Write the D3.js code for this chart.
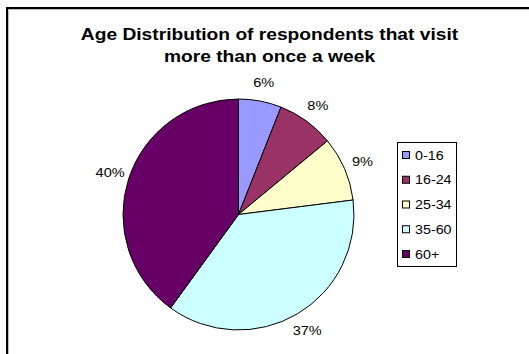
<!DOCTYPE html>
<html>
<head>
<meta charset="utf-8">
<script src="https://cdn.jsdelivr.net/npm/d3@7"></script>
<style>
  html, body { margin: 0; padding: 0; background: #fff; }
  svg { display: block; font-family: "Liberation Sans", Arial, sans-serif; }
</style>
</head>
<body>
<svg id="chart" width="529" height="354"></svg>
<script>
// Age groups and their share (%) of respondents visiting more than once a week
const categories = ["0-16", "16-24", "25-34", "35-60", "60+"];
const shares = [6, 8, 9, 37, 40];
const colors = ["#9999FF", "#993366", "#FFFFCC", "#CCFFFF", "#660066"];
const titleLines = ["Age Distribution of respondents that visit", "more than once a week"];

// Text is drawn slightly widened, like the original spreadsheet export
const SX = 1.12;

const svg = d3.select("#chart");

// Chart frame (runs off the right and bottom edges)
svg.append("rect")
  .attr("x", 7).attr("y", 8)
  .attr("width", 600).attr("height", 400)
  .attr("fill", "#fff")
  .attr("stroke", "#000").attr("stroke-width", 2);
svg.append("path")
  .attr("d", "M8.5,600V9.5H600")
  .attr("fill", "none")
  .attr("stroke", "#bdbdbd").attr("stroke-width", 1);

// Title
svg.selectAll("text.title")
  .data(titleLines)
  .join("text")
  .attr("class", "title")
  .attr("transform", (d, i) => `translate(269.5,${40 + i * 21.7}) scale(1.2,1)`)
  .attr("text-anchor", "middle")
  .attr("font-size", 16).attr("font-weight", "bold")
  .text(d => d);

// Pie
const cx = 238.5, cy = 214.5, R = 115.5;
const data = categories.map((c, i) => ({ cat: c, value: shares[i], color: colors[i] }));
const pie = d3.pie().value(d => d.value).sort(null);
const arcs = pie(data);
const arc = d3.arc().innerRadius(0).outerRadius(R);
const labelArc = d3.arc().innerRadius(135).outerRadius(135);

const g = svg.append("g").attr("transform", `translate(${cx},${cy})`);
g.selectAll("path.slice")
  .data(arcs)
  .join("path")
  .attr("class", "slice")
  .attr("d", arc)
  .attr("fill", d => d.data.color)
  .attr("stroke", "#000").attr("stroke-width", 1);

g.selectAll("text.pct")
  .data(arcs)
  .join("text")
  .attr("class", "pct")
  .attr("transform", d => `translate(${labelArc.centroid(d)}) scale(${SX},1)`)
  .attr("text-anchor", "middle")
  .attr("dy", "0.36em")
  .attr("font-size", 13)
  .attr("fill", "#000")
  .text(d => d.data.value + "%");

// Legend
const legend = svg.append("g");
legend.append("rect")
  .attr("x", 397.5).attr("y", 142.5)
  .attr("width", 59).attr("height", 124)
  .attr("fill", "#fff").attr("stroke", "#000").attr("stroke-width", 1);

const rowY = d3.scalePoint().domain(categories).range([155, 254]);
const items = legend.selectAll("g.item")
  .data(data)
  .join("g")
  .attr("class", "item")
  .attr("transform", d => `translate(0,${rowY(d.cat)})`);
items.append("rect")
  .attr("x", 402.5).attr("y", -3.5)
  .attr("width", 7).attr("height", 7)
  .attr("fill", d => d.color)
  .attr("stroke", "#000").attr("stroke-width", 1);
items.append("text")
  .attr("transform", `translate(415,0) scale(1.1,1)`)
  .attr("dy", "0.36em")
  .attr("font-size", 13)
  .text(d => d.cat);
</script>
</body>
</html>
